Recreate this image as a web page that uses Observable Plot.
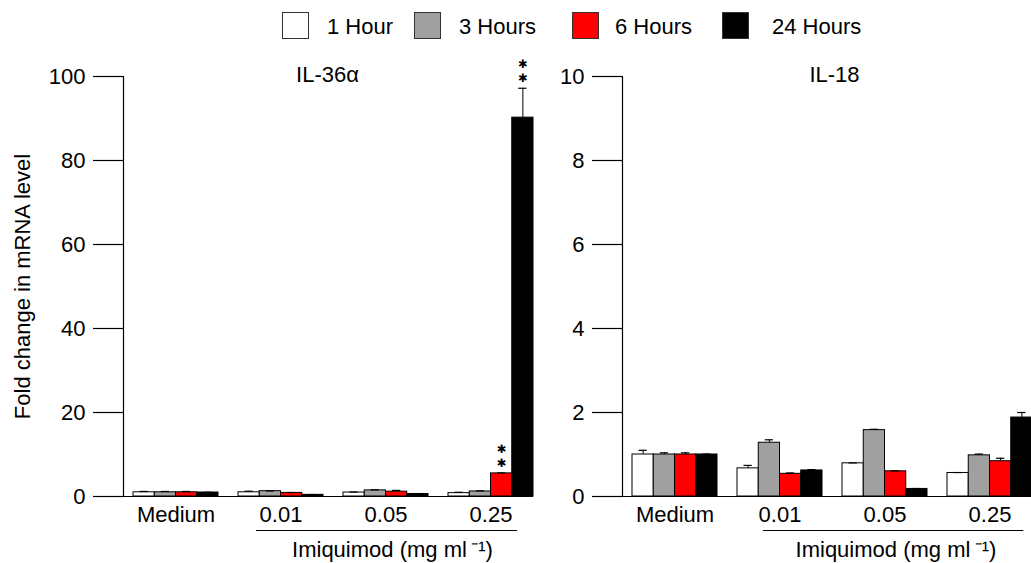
<!DOCTYPE html>
<html>
<head>
<meta charset="utf-8">
<script src="https://cdn.jsdelivr.net/npm/d3@7"></script>
<script src="https://cdn.jsdelivr.net/npm/@observablehq/plot@0.6"></script>
<style>
  html, body { margin: 0; padding: 0; background: #fff; overflow: hidden; width: 1031px; height: 563px; }
  #root { position: relative; width: 1031px; height: 563px; overflow: hidden; font-family: "Liberation Sans", Arial, Helvetica, sans-serif; color: #000; }
  #legend { position: absolute; left: 0; top: 0; width: 1031px; height: 50px; }
  .lg-box { position: absolute; top: 12px; width: 27px; height: 27px; box-sizing: border-box; border: 1.5px solid #333; }
  .lg-text { position: absolute; top: 16px; font-size: 22px; line-height: 22px; white-space: nowrap; }
  .panel { position: absolute; top: 50px; }
</style>
</head>
<body>
<div id="root">
  <div id="legend"></div>
</div>
<script>
// ---- data ----
const groups = ["Medium", "0.01", "0.05", "0.25"];
const series = ["1 Hour", "3 Hours", "6 Hours", "24 Hours"];
const seriesColors = ["#ffffff", "#a0a0a0", "#ff0000", "#000000"];

// IL-36α (rows: groups, columns: series)
const il36Mean = [
  [1.0, 1.0, 1.0, 0.95],
  [1.0, 1.27, 0.85, 0.4],
  [0.95, 1.45, 1.15, 0.6],
  [0.8, 1.2, 5.5, 90.2]
];
const il36Err = [
  [0.2, 0.2, 0.2, 0.05],
  [0.25, 0.05, 0.1, 0.03],
  [0.1, 0.15, 0.3, 0.05],
  [0.2, 0.15, 0.1, 7.0]
];
const il36Stars = [
  [0, 0, 0, 0],
  [0, 0, 0, 0],
  [0, 0, 0, 0],
  [0, 0, 2, 2]
];
const il36Ticks = [0, 20, 40, 60, 80, 100];

// IL-18
const il18Mean = [
  [1.0, 1.0, 1.0, 1.0],
  [0.67, 1.28, 0.54, 0.62],
  [0.79, 1.58, 0.6, 0.18],
  [0.56, 0.98, 0.84, 1.88]
];
const il18Err = [
  [0.1, 0.04, 0.04, 0.01],
  [0.07, 0.07, 0.02, 0.02],
  [0.01, 0.02, 0.01, 0.01],
  [0.01, 0.03, 0.07, 0.12]
];
const il18Ticks = [0, 2, 4, 6, 8, 10];

const yLabel = "Fold change in mRNA level";
const xLabel = "Imiquimod (mg ml\u2009\u207B\u00B9)";
const starGlyph = "\u2731";

// ---- layout ----
const FONT = "'Liberation Sans', Arial, Helvetica, sans-serif";
const W = 545, H = 513, ML = 123, MR = 2, MT = 26, MB = 67;
const STEP = 105, BAND = 85, BW = BAND / series.length, CAP = 6.5;

// legend
const legendBoxX = [282, 414, 572, 722];
const legendTextX = [327, 459, 615, 772];
const legend = document.getElementById("legend");
series.forEach((s, i) => {
  const b = document.createElement("div");
  b.className = "lg-box";
  b.style.left = legendBoxX[i] + "px";
  b.style.background = seriesColors[i];
  legend.appendChild(b);
  const t = document.createElement("div");
  t.className = "lg-text";
  t.style.left = legendTextX[i] + "px";
  t.textContent = s;
  legend.appendChild(t);
});

function drawPanel(cfg) {
  const rows = [];
  groups.forEach((g, gi) => series.forEach((s, si) => {
    const v = cfg.mean[gi][si], e = cfg.err[gi][si];
    rows.push({group: g, series: s, si, value: v, err: e, top: v + e,
      stars: cfg.stars ? cfg.stars[gi][si] : 0});
  }));
  const marks = [];
  // baseline
  marks.push(Plot.ruleY([0], {stroke: "#000", strokeWidth: 1.2, insetLeft: -30, insetRight: 10}));
  // y axis line
  marks.push(Plot.frame({anchor: "left", stroke: "#000", strokeWidth: 1.2}));
  marks.push(Plot.axisY({ticks: cfg.ticks, tickSize: 30, tickPadding: 8, fontSize: 22, tickFormat: d => String(d), label: null, strokeWidth: 1.2}));
  marks.push(Plot.axisX({tickSize: 0, tickPadding: 10, fontSize: 22, label: null}));
  series.forEach((s, si) => {
    const d = rows.filter(r => r.si === si);
    const off = (si + 0.5) * BW - BAND / 2;
    marks.push(Plot.barY(d, {x: "group", y: "value", fill: "series", stroke: "#000", strokeWidth: 1,
      insetLeft: si * BW, insetRight: (series.length - 1 - si) * BW}));
    marks.push(Plot.ruleX(d, {x: "group", y1: "value", y2: "top", dx: off, stroke: "#000", strokeWidth: 1}));
    marks.push(Plot.tickY(d, {x: "group", y: "top", stroke: "#000", strokeWidth: 1.2,
      insetLeft: si * BW + CAP, insetRight: (series.length - 1 - si) * BW + CAP}));
    // significance asterisks, stacked one above the other
    [0, 1].forEach(k => {
      const sd = d.filter(r => r.stars > k);
      if (sd.length) {
        marks.push(Plot.text(sd, {x: "group", y: "top", text: () => starGlyph,
          dx: off, dy: -10 - 14 * k, lineAnchor: "middle", fontSize: 11.5,
          fontFamily: "DejaVu Sans", fill: "#000"}));
      }
    });
  });
  // title
  marks.push(Plot.text([cfg.title], {frameAnchor: "top", lineAnchor: "bottom", dy: 5, dx: cfg.titleDx, fontSize: 22, fill: "#000"}));
  // underline for imiquimod doses
  marks.push(Plot.ruleY([0], {x1: () => "0.01", x2: () => "0.25", dy: 34, stroke: "#000", strokeWidth: 1.2,
    insetLeft: cfg.ulL, insetRight: cfg.ulR}));
  marks.push(Plot.text([xLabel], {x: () => "0.05", frameAnchor: "bottom", lineAnchor: "bottom", dy: 60, dx: cfg.subDx, fontSize: 22, fill: "#000"}));
  if (cfg.yLabel) {
    marks.push(Plot.text([cfg.yLabel], {frameAnchor: "left", rotate: -90, textAnchor: "middle", lineAnchor: "bottom", dx: -93.5, fontSize: 22, fill: "#000"}));
  }
  const chart = Plot.plot({
    width: W, height: H, marginLeft: ML, marginRight: MR, marginTop: MT, marginBottom: MB,
    style: {background: "transparent", fontFamily: FONT, fontSize: "22px", color: "#000", overflow: "visible"},
    x: {type: "band", domain: groups, paddingInner: (STEP - BAND) / STEP, paddingOuter: 10 / STEP, align: 0.5},
    y: {domain: [0, cfg.yMax], nice: false},
    color: {domain: series, range: seriesColors},
    marks
  });
  chart.classList.add("panel");
  chart.style.left = cfg.left + "px";
  chart.style.position = "absolute";
  chart.style.top = "50px";
  chart.style.maxWidth = "none";
  document.getElementById("root").appendChild(chart);
}

drawPanel({mean: il36Mean, err: il36Err, stars: il36Stars, yMax: 100, ticks: il36Ticks, title: "IL-36\u03B1",
  titleDx: -6, subDx: 6.5, ulL: 18, ulR: 16, yLabel: yLabel, left: 0});
drawPanel({mean: il18Mean, err: il18Err, stars: null, yMax: 10, ticks: il18Ticks, title: "IL-18",
  titleDx: 2, subDx: 11, ulL: 26, ulR: 8.7, yLabel: null, left: 499});
</script>
</body>
</html>
